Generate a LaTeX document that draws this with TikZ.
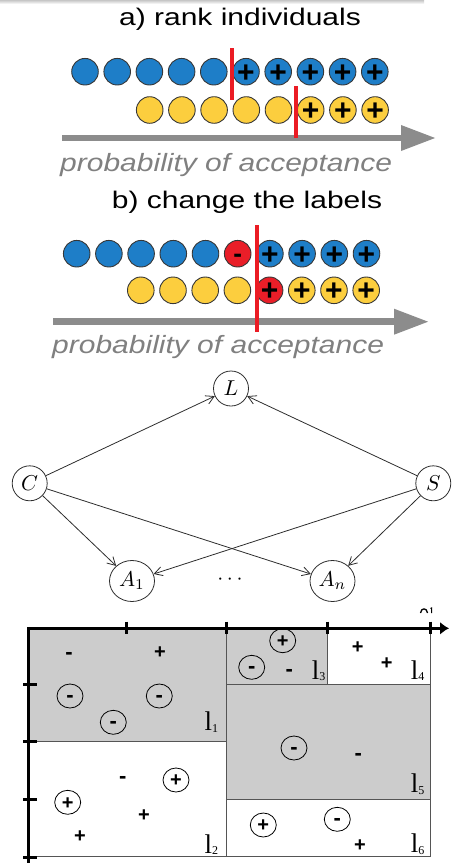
\documentclass[tikz,border=0pt]{standalone}
\usepackage{fontspec}
\setmainfont{Liberation Sans}
\newfontfamily\labserif{Liberation Serif}
\usetikzlibrary{arrows.meta,shapes.geometric}

\definecolor{dotblue}{RGB}{30,126,200}
\definecolor{dotyellow}{RGB}{252,206,62}
\definecolor{dotred}{RGB}{233,30,40}
\definecolor{dotedge}{RGB}{55,55,55}
\definecolor{arrowgray}{RGB}{140,140,140}
\definecolor{probgray}{RGB}{128,128,128}
\definecolor{cutred}{RGB}{235,28,36}
\definecolor{graphline}{RGB}{45,45,45}
\definecolor{regiongray}{RGB}{204,204,204}
\definecolor{regionedge}{RGB}{85,85,85}

\tikzset{
  ball/.style={circle, draw=dotedge, line width=0.9pt, minimum size=26.6pt, inner sep=0pt},
  ballplus/.style={inner sep=0pt, font=\fontsize{30}{30}\selectfont\bfseries, yshift=-1.5pt},
  ballminus/.style={inner sep=0pt, font=\fontsize{26}{26}\selectfont\bfseries, yshift=-4.5pt},
  title/.style={anchor=base, inner sep=0pt, font=\fontsize{24}{24}\selectfont},
  probtext/.style={anchor=base west, inner sep=0pt, text=probgray, font=\fontsize{25}{25}\selectfont\itshape},
  probarrow/.style={draw=arrowgray, line width=6.5pt, -{Triangle[length=35pt,width=24pt]}},
  redcut/.style={draw=cutred, line width=4.3pt},
  gnode/.style={circle, draw=graphline, line width=0.8pt, minimum size=35pt, inner sep=0pt},
  anode/.style={ellipse, draw=graphline, line width=0.8pt, minimum width=45pt, minimum height=41pt, inner sep=0pt},
  garrow/.style={draw=graphline, line width=0.8pt, -{Straight Barb[length=8pt,width=9pt]}},
  region/.style={draw=regionedge, line width=0.9pt},
  axisline/.style={draw=black, line width=3pt},
  ring/.style={ellipse, draw=black, line width=0.8pt, minimum width=26pt, minimum height=24pt, inner sep=0pt},
  cplus/.style={inner sep=0pt, font=\fontsize{20}{20}\selectfont\bfseries, yshift=-1pt},
  cminus/.style={inner sep=0pt, font=\fontsize{22}{22}\selectfont\bfseries, yshift=-2.5pt},
  leaflabel/.style={anchor=base west, inner sep=0pt, font=\labserif\fontsize{27}{27}\selectfont},
}
\newcommand{\leaf}[1]{l\raisebox{-1.5pt}{\fontsize{12}{12}\selectfont #1}}
% graph labels: 10pt math, enlarged
\newcommand{\gmath}[1]{\scalebox{2.15}{$#1$}}

\begin{document}
\begin{tikzpicture}[x=1pt, y=-1pt]
\useasboundingbox (0,0) rectangle (454,863);

% faint shadow along the top edge
\shade[top color=gray!45, bottom color=white] (0,0) rectangle (424,4);

% ---------- a) rank individuals ----------
\node[title] (titlea) at (240,25.7) {\scalebox{1.25}[1]{a) rank individuals}};

\foreach \i in {0,...,4}
  \node[ball, fill=dotblue] (ab\i) at ({85+32.2*\i},71.7) {};
\foreach \i in {5,...,9}{
  \node[ball, fill=dotblue] (ab\i) at ({85+32.2*\i},71.7) {};
  \node[ballplus] (abp\i) at (ab\i.center) {+};
}
\foreach \i in {0,...,4}
  \node[ball, fill=dotyellow] (ay\i) at ({149.7+32.2*\i},110) {};
\foreach \i in {5,...,7}{
  \node[ball, fill=dotyellow] (ay\i) at ({149.7+32.2*\i},110) {};
  \node[ballplus] (ayp\i) at (ay\i.center) {+};
}

\coordinate (axa0) at (62,138);
\coordinate (axa1) at (436,138);
\draw[probarrow] (axa0) -- (axa1);

\coordinate (cuta0) at (232,48);
\coordinate (cuta1) at (232,100);
\draw[redcut] (cuta0) -- (cuta1);
\coordinate (cutb0) at (296,86);
\coordinate (cutb1) at (296,138);
\draw[redcut] (cutb0) -- (cutb1);

\node[probtext] (proba) at (60,171) {\scalebox{1.2}[1]{probability of acceptance}};

% ---------- b) change the labels ----------
\node[title] (titleb) at (247,208) {\scalebox{1.25}[1]{b) change the labels}};

\foreach \i in {0,...,4}
  \node[ball, fill=dotblue] (bb\i) at ({76.7+32.2*\i},253.7) {};
\node[ball, fill=dotred] (bb5) at ({76.7+32.2*5},253.7) {};
\node[ballminus] (bbm5) at (bb5.center) {-};
\foreach \i in {6,...,9}{
  \node[ball, fill=dotblue] (bb\i) at ({76.7+32.2*\i},253.7) {};
  \node[ballplus] (bbp\i) at (bb\i.center) {+};
}
\foreach \i in {0,...,3}
  \node[ball, fill=dotyellow] (by\i) at ({140.8+32.2*\i},290.3) {};
\node[ball, fill=dotred] (by4) at ({140.8+32.2*4},290.3) {};
\node[ballplus] (byp4) at (by4.center) {+};
\foreach \i in {5,...,7}{
  \node[ball, fill=dotyellow] (by\i) at ({140.8+32.2*\i},290.3) {};
  \node[ballplus] (byp\i) at (by\i.center) {+};
}

\coordinate (axb0) at (53,321.7);
\coordinate (axb1) at (429,321.7);
\draw[probarrow] (axb0) -- (axb1);

\coordinate (cutc0) at (256.7,225);
\coordinate (cutc1) at (256.7,331.7);
\draw[redcut] (cutc0) -- (cutc1);

\node[probtext] (probb) at (52,353.3) {\scalebox{1.2}[1]{probability of acceptance}};

% ---------- graph ----------
\node[gnode] (L) at (231,388.5) {\gmath{L}};
\node[gnode] (C) at (29.7,483.3) {\gmath{C}};
\node[gnode] (S) at (433.3,483.3) {\gmath{S}};
\node[anode] (A1) at (132,581) {\gmath{A_1}};
\node[anode] (An) at (332.5,581) {\gmath{A_n}};
\node[inner sep=0pt] (dots) at (230,580) {\gmath{\cdots}};

\draw[garrow] (C) -- (L);
\draw[garrow] (S) -- (L);
\draw[garrow] (C) -- (A1);
\draw[garrow] (C) -- (An);
\draw[garrow] (S) -- (A1);
\draw[garrow] (S) -- (An);

% ---------- partition of the plane ----------
\filldraw[region, fill=regiongray] (28,628.3) rectangle (226.7,741.7);
\draw[region] (28,741.7) rectangle (226.7,856.7);
\filldraw[region, fill=regiongray] (226.7,628.3) rectangle (327.3,684);
\draw[region] (327.3,628.3) rectangle (430,684);
\filldraw[region, fill=regiongray] (226.7,684) rectangle (430,799.3);
\draw[region] (226.7,799.3) rectangle (430,856.7);

% axes and ticks
\draw[axisline, -{Latex[length=9pt,width=13pt]}] (28,628.3) -- (449,628.3);
\draw[axisline] (28,626.8) -- (28,863);
\foreach \x in {126,226.7,327.3,430}
  \draw[axisline] (\x,621.7) -- (\x,634);
\foreach \y in {684,741.7,799.3,857.3}
  \draw[axisline] (23,\y) -- (36.7,\y);

% clipped axis name above the arrow
\draw[line width=1.3pt] (420.5,613) .. controls (421,607.5) and (427,607.5) .. (427.5,613);
\draw[line width=1pt] (430.5,608.5) -- (431.5,608) -- (431.5,613);

% samples in l1
\node[cminus] (s1) at (69,653.3) {-};
\node[cplus] (s2) at (160,651.7) {+};
\node[ring] (r3) at (70,696) {};
\node[cminus] (s3) at (r3.center) {-};
\node[ring] (r4) at (159.3,696) {};
\node[cminus] (s4) at (r4.center) {-};
\node[ring] (r5) at (113.3,722.3) {};
\node[cminus] (s5) at (r5.center) {-};
% samples in l2
\node[cminus] (s6) at (122.7,777.7) {-};
\node[ring] (r7) at (176,780) {};
\node[cplus] (s7) at (r7.center) {+};
\node[ring] (r8) at (67.7,802.3) {};
\node[cplus] (s8) at (r8.center) {+};
\node[cplus] (s9) at (144,814.3) {+};
\node[cplus] (s10) at (80,835.7) {+};
% samples in l3
\node[ring] (r11) at (282.7,640.7) {};
\node[cplus] (s11) at (r11.center) {+};
\node[ring] (r12) at (251.7,667.3) {};
\node[cminus] (s12) at (r12.center) {-};
\node[cminus] (s13) at (289.3,670.7) {-};
% samples in l4
\node[cplus] (s14) at (357.7,646.7) {+};
\node[cplus] (s15) at (386.7,662.7) {+};
% samples in l5
\node[ring] (r16) at (294,748) {};
\node[cminus] (s16) at (r16.center) {-};
\node[cminus] (s17) at (358.3,754.3) {-};
% samples in l6
\node[ring] (r18) at (263.3,825) {};
\node[cplus] (s18) at (r18.center) {+};
\node[ring] (r19) at (337.3,819.3) {};
\node[cminus] (s19) at (r19.center) {-};
\node[cplus] (s20) at (360,844.3) {+};

% leaf names
\node[leaflabel] (l1) at (204.3,730.7) {\leaf{1}};
\node[leaflabel] (l2) at (204.3,853.3) {\leaf{2}};
\node[leaflabel] (l3) at (311.7,679.3) {\leaf{3}};
\node[leaflabel] (l4) at (410.7,679.3) {\leaf{4}};
\node[leaflabel] (l5) at (410.7,792.7) {\leaf{5}};
\node[leaflabel] (l6) at (410.7,852.7) {\leaf{6}};
\end{tikzpicture}
\end{document}
